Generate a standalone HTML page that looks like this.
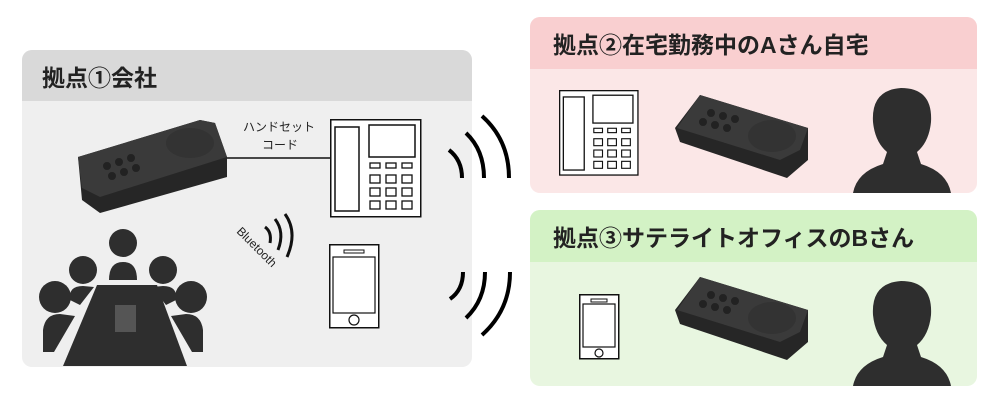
<!DOCTYPE html>
<html><head><meta charset="utf-8"><style>
html,body{margin:0;padding:0;background:#fff;width:1000px;height:400px;overflow:hidden}
svg{display:block}
text{font-family:"Liberation Sans","Noto Sans CJK JP",sans-serif}
</style></head><body>
<svg width="1000" height="400" viewBox="0 0 1000 400" xmlns="http://www.w3.org/2000/svg">
<defs>
<g id="phone">
<rect x="0.75" y="0.75" width="90" height="97" fill="#fff" stroke="#111" stroke-width="1.5"/>
<rect x="5" y="8" width="24" height="84" fill="none" stroke="#111" stroke-width="1.5"/>
<rect x="39" y="6" width="46" height="32" fill="none" stroke="#111" stroke-width="1.5"/>
<g fill="none" stroke="#111" stroke-width="1.3">
<rect x="40" y="44" width="10" height="5"/><rect x="56" y="44" width="10" height="5"/><rect x="72" y="44" width="10" height="5"/>
<rect x="40" y="56" width="10" height="8"/><rect x="56" y="56" width="10" height="8"/><rect x="72" y="56" width="10" height="8"/>
<rect x="40" y="69" width="10" height="8"/><rect x="56" y="69" width="10" height="8"/><rect x="72" y="69" width="10" height="8"/>
<rect x="40" y="82" width="10" height="8"/><rect x="56" y="82" width="10" height="8"/><rect x="72" y="82" width="10" height="8"/>
</g>
</g>
<g id="rspk">
<polygon points="700,95 808,128 808,160 787,178 680,142 675,128" fill="#262626"/>
<polygon points="700,95 808,128 800,150 780,160 677,128" fill="#3a3a3a"/>
<ellipse cx="772" cy="136" rx="24" ry="16" fill="#333"/>
<circle cx="711" cy="113" r="4" fill="#222"/><circle cx="723" cy="116" r="4" fill="#222"/><circle cx="735" cy="119" r="4" fill="#222"/>
<circle cx="703" cy="122" r="4" fill="#222"/><circle cx="715" cy="125" r="4" fill="#222"/><circle cx="727" cy="128" r="4" fill="#222"/>
</g>
<g id="head">
<path d="M0,111 Q4,90 30,82 L34,70 Q22,60 20,40 Q18,8 48,6 Q80,6 78,40 Q76,60 64,70 L68,82 Q94,90 98,111 Z" fill="#2e2e2e"/>
</g>
</defs>
<!-- left panel -->
<rect x="22" y="50" width="450" height="317" rx="10" fill="#efefef"/>
<path d="M22,101 V60 A10,10 0 0 1 32,50 H462 A10,10 0 0 1 472,60 V101 Z" fill="#d9d9d9"/>
<text x="42" y="86" font-size="23" font-weight="bold" fill="#222">拠点①会社</text>
<polygon points="78,157 200,120 215,123 227,157 227,177 100,213 82,200" fill="#262626"/>
<polygon points="78,157 200,120 215,123 227,157 100,197 82,188" fill="#3a3a3a"/>
<ellipse cx="190" cy="143" rx="24" ry="15" fill="#333"/>
<circle cx="107" cy="166" r="4" fill="#222"/><circle cx="119" cy="162" r="4" fill="#222"/><circle cx="131" cy="158" r="4" fill="#222"/>
<circle cx="112" cy="176" r="4" fill="#222"/><circle cx="124" cy="172" r="4" fill="#222"/><circle cx="136" cy="168" r="4" fill="#222"/>
<line x1="227" y1="158" x2="331" y2="158" stroke="#111" stroke-width="1.5"/>
<text x="243" y="131" font-size="12" fill="#222">ハンドセット</text>
<text x="262" y="149" font-size="12" fill="#222">コード</text>
<use href="#phone" x="330" y="119"/>
<text x="236" y="232" font-size="12" fill="#222" transform="rotate(45 236 232)">Bluetooth</text>
<g fill="none" stroke="#111" stroke-width="3">
<path d="M265,227 Q272,232 270,243"/><path d="M275,219 Q285,232 278,250"/><path d="M285,214 Q298,232 287,257"/>
</g>
<rect x="329.75" y="244.75" width="49" height="83" fill="#fff" stroke="#111" stroke-width="1.5"/>
<rect x="333" y="257" width="42" height="56" fill="#fff" stroke="#111" stroke-width="1.2"/>
<rect x="344" y="250" width="20" height="3" fill="none" stroke="#111"/>
<circle cx="354" cy="320" r="5" fill="none" stroke="#111" stroke-width="1.2"/>
<!-- meeting -->
<g fill="#2e2e2e">
<polygon points="97,285 157,285 187,366 63,366"/>
<circle cx="123" cy="243" r="14"/><path d="M109,280 Q109,262 123,262 Q137,262 137,280 Z"/>
<circle cx="83" cy="270" r="14"/><circle cx="163" cy="270" r="14"/>
<path d="M70,300 Q68,286 83,286 L94,287 L80,305 Z"/><path d="M176,300 Q178,286 163,286 L152,287 L166,305 Z"/>
<circle cx="55" cy="297" r="16"/><circle cx="191" cy="297" r="16"/>
<path d="M43,352 L43,330 Q45,314 60,314 L75,316 L54,352 Z"/><path d="M203,352 L203,330 Q201,314 186,314 L171,316 L192,352 Z"/>
</g>
<rect x="115" y="305" width="21" height="27" fill="#555"/>
<!-- waves -->
<g fill="none" stroke="#000" stroke-width="4">
<path d="M449,150 Q462,160 462,178"/><path d="M466,133 Q484,150 484,178"/><path d="M482,116 Q509,140 509,178"/>
<path d="M463,272 Q463,290 450,299"/><path d="M485,272 Q485,300 466,318"/><path d="M510,272 Q510,310 482,335"/>
</g>
<!-- pink panel -->
<rect x="530" y="17" width="447" height="176" rx="10" fill="#fbe7e7"/>
<path d="M530,69 V27 A10,10 0 0 1 540,17 H967 A10,10 0 0 1 977,27 V69 Z" fill="#f9cfd0"/>
<text x="553" y="53" font-size="23" font-weight="bold" fill="#222">拠点②在宅勤務中のAさん自宅</text>
<use href="#phone" transform="translate(559,90) scale(0.87)"/>
<use href="#rspk"/>
<use href="#head" x="853" y="82"/>
<!-- green panel -->
<rect x="530" y="210" width="447" height="176" rx="10" fill="#e8f6e0"/>
<path d="M530,262 V220 A10,10 0 0 1 540,210 H967 A10,10 0 0 1 977,220 V262 Z" fill="#d3f2c5"/>
<text x="553" y="246" font-size="23" font-weight="bold" fill="#222">拠点③サテライトオフィスのBさん</text>
<rect x="579.75" y="294.75" width="39" height="64" fill="#fff" stroke="#111" stroke-width="1.5"/>
<rect x="583" y="304" width="32" height="43" fill="#fff" stroke="#111" stroke-width="1.2"/>
<rect x="591" y="299" width="16" height="3" fill="none" stroke="#111"/>
<circle cx="599" cy="353" r="4" fill="none" stroke="#111" stroke-width="1.2"/>
<use href="#rspk" y="182"/>
<use href="#head" x="853" y="275"/>
</svg>
</body></html>
